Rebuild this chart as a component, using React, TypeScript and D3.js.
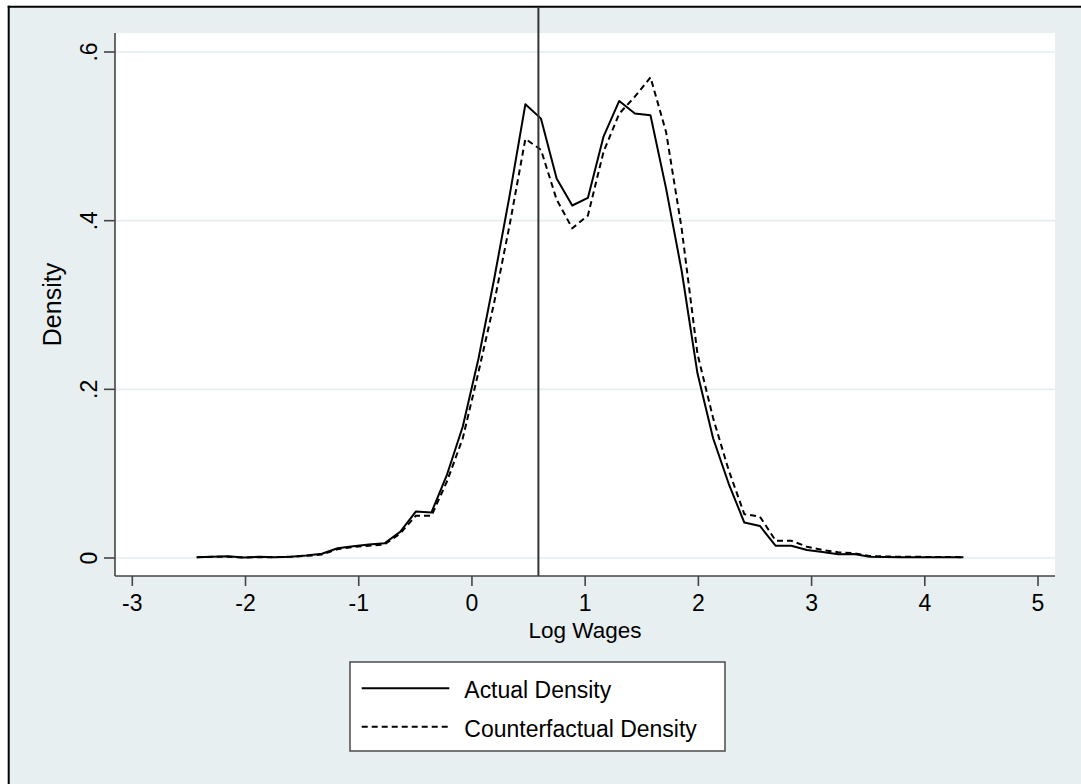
import React from "react";
import * as d3 from "d3";

// Grid of log-wage points (x) shared by both density series
const logWages = [
  -2.431, -2.293, -2.155, -2.016, -1.878, -1.74, -1.602, -1.463, -1.325, -1.187,
  -1.049, -0.911, -0.772, -0.634, -0.496, -0.358, -0.22, -0.081, 0.057, 0.195,
  0.333, 0.472, 0.61, 0.748, 0.886, 1.024, 1.163, 1.301, 1.439, 1.577,
  1.715, 1.853, 1.992, 2.13, 2.268, 2.406, 2.544, 2.683, 2.821, 2.959,
  3.097, 3.235, 3.374, 3.512, 3.65, 3.788, 3.926, 4.065, 4.203, 4.341,
];

const actualDensity = [
  0.001, 0.0015, 0.002, 0.0005, 0.0015, 0.001, 0.0015, 0.003, 0.005, 0.0115,
  0.014, 0.016, 0.0175, 0.031, 0.055, 0.054, 0.099, 0.156, 0.236, 0.33,
  0.43, 0.538, 0.521, 0.45, 0.418, 0.427, 0.5, 0.542, 0.527, 0.525,
  0.438, 0.34, 0.219, 0.142, 0.088, 0.042, 0.038, 0.0145, 0.0146, 0.0095,
  0.007, 0.0044, 0.0047, 0.0016, 0.0012, 0.001, 0.001, 0.001, 0.001, 0.001,
];

const counterfactualDensity = [
  0.001, 0.0015, 0.0015, 0.0005, 0.001, 0.001, 0.0015, 0.0025, 0.004, 0.0105,
  0.013, 0.0145, 0.016, 0.029, 0.05, 0.05, 0.091, 0.142, 0.22, 0.302,
  0.395, 0.497, 0.484, 0.425, 0.391, 0.406, 0.482, 0.527, 0.547, 0.57,
  0.505, 0.39, 0.242, 0.166, 0.104, 0.052, 0.049, 0.0205, 0.0205, 0.0134,
  0.0095, 0.0068, 0.0056, 0.0024, 0.0018, 0.0015, 0.0014, 0.0012, 0.0011, 0.001,
];

const xTicks = [-3, -2, -1, 0, 1, 2, 3, 4, 5];
const yTicks = [0, 0.2, 0.4, 0.6];
const yTickLabels = ["0", ".2", ".4", ".6"];
const referenceLine = 0.587;

const legendItems = [
  { label: "Actual Density", dash: null as string | null },
  { label: "Counterfactual Density", dash: "6,4" },
];

const FONT = "'Liberation Sans', Arial, Helvetica, sans-serif";

export default function App() {
  const W = 1081;
  const H = 784;
  const plot = { left: 115, right: 1055, top: 33, bottom: 576 };

  const x = d3.scaleLinear().domain([-3.1528, 5.15]).range([plot.left, plot.right]);
  const y = d3.scaleLinear().domain([-0.02134, 0.62254]).range([plot.bottom, plot.top]);

  const line = d3
    .line<[number, number]>()
    .x((d) => x(d[0]))
    .y((d) => y(d[1]));

  const actualPts = logWages.map((v, i) => [v, actualDensity[i]] as [number, number]);
  const cfPts = logWages.map((v, i) => [v, counterfactualDensity[i]] as [number, number]);

  const bg = "#e8eff1";
  const grid = "#e6eef0";
  const axisColor = "#444";

  const legend = { x: 350, y: 662, w: 375, h: 89 };
  const rowY = [688.3, 726.7];

  return (
    <svg
      width={W}
      height={H}
      style={{ position: "absolute", left: 0, top: 0, display: "block" }}
      fontFamily={FONT}
    >
      <rect x={0} y={0} width={W} height={H} fill="#ffffff" />
      <rect x={8.7} y={6.7} width={W} height={H} fill={bg} />
      <line x1={7.7} x2={W} y1={6.7} y2={6.7} stroke="#000" strokeWidth={2} />
      <line x1={8.7} x2={8.7} y1={5.7} y2={H} stroke="#000" strokeWidth={2} />

      {/* plot region */}
      <rect
        x={plot.left}
        y={plot.top}
        width={plot.right - plot.left}
        height={plot.bottom - plot.top}
        fill="#ffffff"
      />
      {yTicks.map((t) => (
        <line
          key={"g" + t}
          x1={plot.left}
          x2={plot.right}
          y1={y(t)}
          y2={y(t)}
          stroke={grid}
          strokeWidth={1.6}
        />
      ))}

      {/* curves */}
      <path d={line(actualPts) || ""} fill="none" stroke="#000" strokeWidth={2} strokeLinejoin="round" />
      <path
        d={line(cfPts) || ""}
        fill="none"
        stroke="#000"
        strokeWidth={2}
        strokeDasharray="6,4"
      />

      {/* reference vertical line */}
      <line
        x1={x(referenceLine)}
        x2={x(referenceLine)}
        y1={6.7}
        y2={plot.bottom}
        stroke="#333"
        strokeWidth={2}
      />

      {/* axes */}
      <line x1={plot.left} x2={plot.left} y1={plot.top} y2={plot.bottom} stroke={axisColor} strokeWidth={1.6} />
      <line x1={plot.left} x2={plot.right} y1={plot.bottom} y2={plot.bottom} stroke={axisColor} strokeWidth={1.6} />

      {yTicks.map((t, i) => (
        <g key={"yt" + t}>
          <line x1={plot.left - 11} x2={plot.left} y1={y(t)} y2={y(t)} stroke={axisColor} strokeWidth={1.6} />
          <text
            transform={`translate(97,${y(t)}) rotate(-90)`}
            textAnchor="middle"
            fontSize={23}
            fill="#000"
          >
            {yTickLabels[i]}
          </text>
        </g>
      ))}

      {xTicks.map((t) => (
        <g key={"xt" + t}>
          <line x1={x(t)} x2={x(t)} y1={plot.bottom} y2={plot.bottom + 10} stroke={axisColor} strokeWidth={1.6} />
          <text x={x(t)} y={611} textAnchor="middle" fontSize={23} fill="#000">
            {t}
          </text>
        </g>
      ))}

      <text x={(plot.left + plot.right) / 2} y={638} textAnchor="middle" fontSize={22.5} fill="#000">
        Log Wages
      </text>
      <text
        transform={`translate(61,${(plot.top + plot.bottom) / 2}) rotate(-90)`}
        textAnchor="middle"
        fontSize={25}
        fill="#000"
      >
        Density
      </text>

      {/* legend */}
      <rect
        x={legend.x}
        y={legend.y}
        width={legend.w}
        height={legend.h}
        fill="#ffffff"
        stroke="#555"
        strokeWidth={1.6}
      />
      {legendItems.map((it, i) => (
        <g key={it.label}>
          <line
            x1={361.7}
            x2={449.3}
            y1={rowY[i]}
            y2={rowY[i]}
            stroke="#000"
            strokeWidth={2}
            strokeDasharray={it.dash || undefined}
          />
          <text
            transform={`translate(464.3,${rowY[i] + 10}) scale(1,1.08)`}
            fontSize={23}
            fill="#000"
          >
            {it.label}
          </text>
        </g>
      ))}
    </svg>
  );
}
